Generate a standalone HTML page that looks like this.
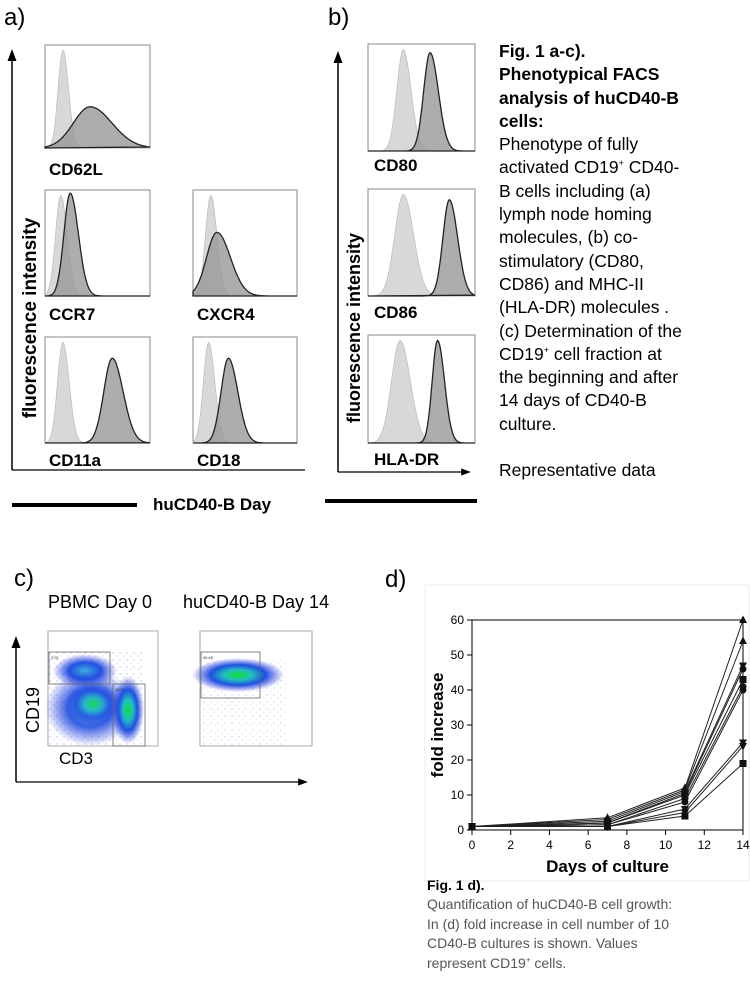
<!DOCTYPE html>
<html><head><meta charset="utf-8"><style>
body{margin:0;background:#fff;width:750px;height:989px;position:relative;overflow:hidden;font-family:"Liberation Sans",Arial,sans-serif;}
.abs{position:absolute;}
.lbl{position:absolute;font-weight:bold;font-size:17px;color:#000;}
</style></head><body>
<svg width="750" height="989" style="position:absolute;left:0;top:0">
<defs>
<marker id="ar" markerWidth="8" markerHeight="8" refX="4" refY="4" orient="auto"><path d="M0,1 L8,4 L0,7 Z" fill="#000"/></marker>
<radialGradient id="blob" cx="50%" cy="50%" r="50%"><stop offset="0" stop-color="#10e030"/><stop offset="0.3" stop-color="#20c0c0"/><stop offset="0.6" stop-color="#2050e0"/><stop offset="1" stop-color="#3040e0" stop-opacity="0"/></radialGradient>
<radialGradient id="blob2" cx="50%" cy="50%" r="50%"><stop offset="0" stop-color="#40b0e0"/><stop offset="0.5" stop-color="#2050e0"/><stop offset="1" stop-color="#3040e0" stop-opacity="0"/></radialGradient>
<pattern id="speck" width="7" height="7" patternUnits="userSpaceOnUse"><circle cx="1" cy="2" r="0.6" fill="#4050d0"/><circle cx="5" cy="5" r="0.5" fill="#4050d0"/></pattern>
</defs>
<line x1="12" y1="470" x2="12" y2="55" stroke="#000" stroke-width="1.5" marker-end="url(#ar)"/>
<line x1="12" y1="470" x2="305" y2="470" stroke="#000" stroke-width="1.2"/>
<rect x="12" y="503" width="125" height="4" fill="#000"/>
<line x1="338" y1="472" x2="338" y2="57" stroke="#000" stroke-width="1.5" marker-end="url(#ar)"/>
<line x1="338" y1="472" x2="466" y2="472" stroke="#000" stroke-width="1.2" marker-end="url(#ar)"/>
<rect x="325" y="499" width="152" height="4" fill="#000"/>
<g id="hists"></g>
<line x1="16" y1="782" x2="16" y2="642" stroke="#000" stroke-width="1.5" marker-end="url(#ar)"/>
<line x1="16" y1="782" x2="303" y2="782" stroke="#000" stroke-width="1.2" marker-end="url(#ar)"/>
<g>
<rect x="48" y="631" width="110" height="115" fill="#fff" stroke="#aaa"/>
<rect x="49" y="650" width="95" height="95" fill="url(#speck)" opacity="0.5"/>
<ellipse cx="85" cy="671" rx="32" ry="17" fill="url(#blob2)"/>
<ellipse cx="90" cy="708" rx="45" ry="38" fill="url(#blob2)" opacity="0.9"/>
<ellipse cx="93" cy="704" rx="28" ry="22" fill="url(#blob)" opacity="0.8"/>
<ellipse cx="128" cy="710" rx="16" ry="34" fill="url(#blob)"/>
<rect x="49" y="652" width="61" height="32" fill="none" stroke="#666" stroke-width="0.8"/>
<rect x="113" y="684" width="32" height="62" fill="none" stroke="#666" stroke-width="0.8"/>
<text x="51" y="659" font-size="4" fill="#333">3.91</text>
<text x="115" y="691" font-size="4" fill="#333">45.11</text>
</g>
<g>
<rect x="200" y="631" width="112" height="115" fill="#fff" stroke="#aaa"/>
<rect x="202" y="660" width="85" height="85" fill="url(#speck)" opacity="0.4"/>
<ellipse cx="238" cy="675" rx="46" ry="17" fill="url(#blob)"/>
<rect x="201" y="652" width="59" height="46" fill="none" stroke="#666" stroke-width="0.8"/>
<text x="203" y="659" font-size="4" fill="#333">96.65</text>
</g>
<rect x="425" y="585" width="324" height="296" fill="#fff" stroke="#eee"/>
<g id="chart"></g>
</svg>

<div class="abs" style="left:4px;top:4px;font-size:24px">a)</div>
<div class="abs" style="left:328px;top:4px;font-size:24px">b)</div>
<div class="lbl" style="left:49px;top:160px">CD62L</div>
<div class="lbl" style="left:49px;top:305px">CCR7</div>
<div class="lbl" style="left:197px;top:305px">CXCR4</div>
<div class="lbl" style="left:49px;top:451px">CD11a</div>
<div class="lbl" style="left:197px;top:451px">CD18</div>
<div class="lbl" style="left:374px;top:156px">CD80</div>
<div class="lbl" style="left:374px;top:303px">CD86</div>
<div class="lbl" style="left:374px;top:450px">HLA-DR</div>
<div class="lbl" style="left:153px;top:495px">huCD40-B Day</div>
<div class="lbl" style="transform-origin:0 0;transform:rotate(-90deg);width:280px;text-align:center;font-size:19px;top:458px;left:20px">fluorescence intensity</div>
<div class="lbl" style="transform-origin:0 0;transform:rotate(-90deg);width:280px;text-align:center;font-size:18px;top:468px;left:344px">fluorescence intensity</div>

<div class="abs" style="left:499px;top:40px;font-size:17.5px;line-height:23.3px;width:250px">
<b>Fig. 1 a-c).<br>Phenotypical FACS<br>analysis of huCD40-B<br>cells:</b><br>Phenotype of fully<br>activated CD19<sup style="font-size:9px;line-height:0">+</sup> CD40-<br>B cells including (a)<br>lymph node homing<br>molecules, (b) co-<br>stimulatory (CD80,<br>CD86) and MHC-II<br>(HLA-DR) molecules .<br>(c) Determination of the<br>CD19<sup style="font-size:9px;line-height:0">+</sup> cell fraction at<br>the beginning and after<br>14 days of CD40-B<br>culture.<br><br>Representative data</div>

<div class="abs" style="left:14px;top:565px;font-size:24px">c)</div>
<div class="abs" style="left:48px;top:592px;font-size:18px">PBMC Day 0</div>
<div class="abs" style="left:183px;top:592px;font-size:18px">huCD40-B Day 14</div>
<div class="abs" style="left:59px;top:749px;font-size:17px">CD3</div>
<div class="abs" style="left:23px;top:733px;font-size:18px;transform-origin:0 0;transform:rotate(-90deg)">CD19</div>
<div class="abs" style="left:385px;top:566px;font-size:24px">d)</div>
<div class="abs" style="left:427px;top:877px;font-size:14px;font-weight:bold">Fig. 1 d).</div>
<div class="abs" style="left:427px;top:895px;font-size:14px;line-height:19.5px;color:#555;width:320px">Quantification of huCD40-B cell growth:<br>In (d) fold increase in cell number of 10<br>CD40-B cultures is shown. Values<br>represent CD19<sup style="font-size:8px;line-height:0">+</sup> cells.</div>

<script>
const histNames=['cd62l','ccr7','cxcr4','cd11a','cd18','cd80','cd86','hla-dr'];
const histBoxes=[[45,45,105,103],[45,190,105,106],[193,190,104,106],[45,337,105,106],[193,337,104,106],[368,44,107,107],[368,189,107,107],[368,335,107,108]];
const ctrlPeak=[0.17,0.15,0.17,0.17,0.15,0.33,0.33,0.30];
const ctrlWidth=[0.045,0.05,0.05,0.05,0.05,0.06,0.08,0.08];
const stainPeak=[0.43,0.24,0.23,0.64,0.34,0.58,0.76,0.65];
const stainWidth=[0.16,0.06,0.10,0.08,0.07,0.06,0.06,0.05];
const stainHeight=[0.40,0.97,0.60,0.80,0.80,0.92,0.90,0.95];
const hg=document.getElementById('hists');
const NS='http://www.w3.org/2000/svg';
function curve(b,p,w,h,skew){
  let d='M'+b[0]+','+(b[1]+b[3]);
  for(let i=0;i<=100;i++){const t=i/100;const s=t<p?w:w*skew;const v=h*Math.exp(-((t-p)*(t-p))/(2*s*s));
    d+=' L'+(b[0]+t*b[2]).toFixed(1)+','+(b[1]+b[3]-v*b[3]).toFixed(1);}
  return d+' Z';
}
histBoxes.forEach((b,i)=>{
  const g=document.createElementNS(NS,'g');
  
  
  const r=document.createElementNS(NS,'rect');
  r.setAttribute('x',b[0]);r.setAttribute('y',b[1]);r.setAttribute('width',b[2]);r.setAttribute('height',b[3]);
  r.setAttribute('fill','#fff');r.setAttribute('stroke','#888');
  g.appendChild(r);
  const c=document.createElementNS(NS,'path');
  c.setAttribute('d',curve(b,ctrlPeak[i],ctrlWidth[i],0.95,1.2));
  c.setAttribute('fill','#d8d8d8');c.setAttribute('stroke','#bbb');c.setAttribute('stroke-width','0.7');
  g.appendChild(c);
  const s=document.createElementNS(NS,'path');
  s.setAttribute('d',curve(b,stainPeak[i],stainWidth[i],stainHeight[i],1.3));
  s.setAttribute('fill','#999');s.setAttribute('fill-opacity','0.8');s.setAttribute('stroke','#222');s.setAttribute('stroke-width','1.3');
  g.appendChild(s);
  hg.appendChild(g);
});

const days=[0,7,11,14];
const series=[
 [1,3.5,12,60],[1,3,11.5,54],[1,2.5,11,47],[1,2,10.5,46],[1,2,10,43],
 [1,1.5,9,41],[1,1.5,8,40],[1,1,6,25],[1,1,5,24],[1,1,4,19]];
const markers=['tri','tri','inv','circ','sq','circ','circ','inv','inv','sq'];
const xTicks=[0,2,4,6,8,10,12,14];
const yTicks=[0,10,20,30,40,50,60];
const X0=472,X1=743,Y0=830,Y1=620;
const sx=v=>X0+(v/14)*(X1-X0);
const sy=v=>Y0-(v/60)*(Y0-Y1);
const cg=document.getElementById('chart');
function mk(tag,attrs){const e=document.createElementNS(NS,tag);for(const k in attrs)e.setAttribute(k,attrs[k]);cg.appendChild(e);return e;}
const frame=mk('rect',{x:X0,y:Y1,width:X1-X0,height:Y0-Y1,fill:'none',stroke:'#000','stroke-width':1});


xTicks.forEach(t=>{
  mk('line',{x1:sx(t),x2:sx(t),y1:Y0,y2:Y0+5,stroke:'#000'});
  const tx=mk('text',{x:sx(t),y:Y0+19,'font-size':12,'text-anchor':'middle','font-family':'Liberation Sans'});
  tx.textContent=t;
  
  
});
yTicks.forEach(t=>{
  mk('line',{x1:X0-5,x2:X0,y1:sy(t),y2:sy(t),stroke:'#000'});
  const tx=mk('text',{x:X0-8,y:sy(t)+4,'font-size':12,'text-anchor':'end','font-family':'Liberation Sans'});
  tx.textContent=t;
  
  
});
const xt=mk('text',{x:(X0+X1)/2,y:Y0+42,'font-size':17,'font-weight':'bold','text-anchor':'middle','font-family':'Liberation Sans'});
xt.textContent='Days of culture';


const yt=mk('text',{x:0,y:0,'font-size':17,'font-weight':'bold','text-anchor':'middle','font-family':'Liberation Sans',transform:'translate(443,'+((Y0+Y1)/2)+') rotate(-90)'});
yt.textContent='fold increase';


series.forEach((s,i)=>{
  const pts=s.map((v,j)=>sx(days[j]).toFixed(1)+','+sy(v).toFixed(1)).join(' ');
  const pl=mk('polyline',{points:pts,fill:'none',stroke:'#222','stroke-width':1});
  
  
  s.forEach((v,j)=>{
    const x=sx(days[j]),y=sy(v),m=markers[i];let e;
    if(m==='circ')e=mk('circle',{cx:x,cy:y,r:3.5,fill:'#111'});
    else if(m==='sq')e=mk('rect',{x:x-3.5,y:y-3.5,width:7,height:7,fill:'#111'});
    else if(m==='tri')e=mk('path',{d:`M${x},${y-4.5} L${x+4},${y+3} L${x-4},${y+3} Z`,fill:'#111'});
    else e=mk('path',{d:`M${x},${y+4.5} L${x+4},${y-3} L${x-4},${y-3} Z`,fill:'#111'});
    
    
  });
});
</script>
</body></html>
